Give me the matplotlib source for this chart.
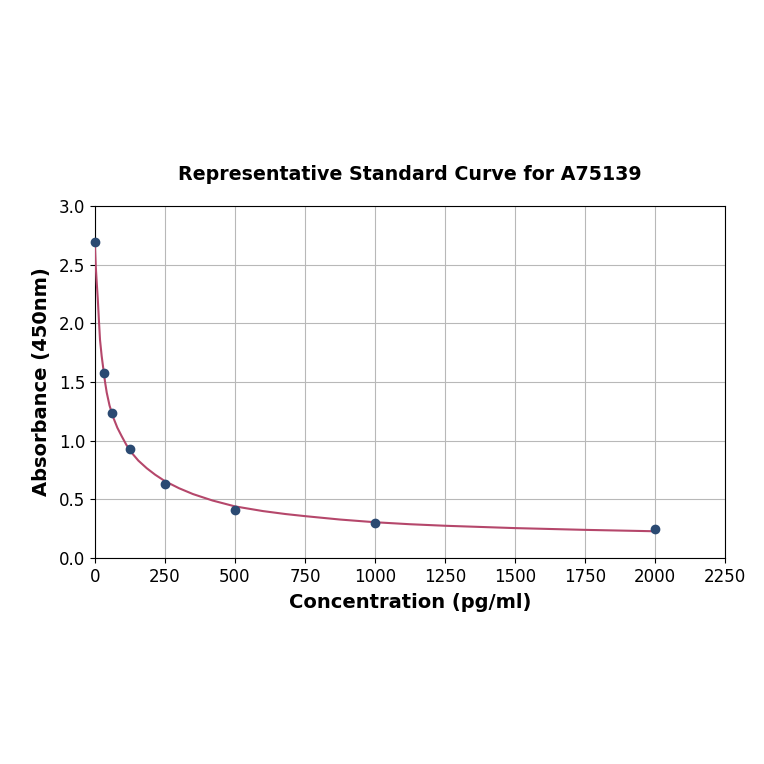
import numpy as np
import matplotlib
matplotlib.use("Agg")
import matplotlib.pyplot as plt

# standard points
conc = [0, 31.25, 62.5, 125, 250, 500, 1000, 2000]
absorb = [2.69, 1.58, 1.24, 0.93, 0.63, 0.41, 0.30, 0.25]

# fitted curve
curve_x = [0, 3, 6, 10, 14, 18, 24, 30, 36, 42, 52, 65, 80, 95, 112, 130,
           155, 185, 215, 250, 300, 350, 420, 500, 600, 680, 750, 875, 1000,
           1125, 1250, 1500, 1750, 2000]
curve_y = [2.66, 2.48, 2.36, 2.21, 2.03, 1.86, 1.72, 1.61, 1.50, 1.41, 1.30,
           1.20, 1.11, 1.04, 0.965, 0.90, 0.83, 0.765, 0.71, 0.655, 0.595,
           0.545, 0.49, 0.44, 0.40, 0.375, 0.357, 0.328, 0.305, 0.288,
           0.275, 0.255, 0.24, 0.228]

xticks = [0, 250, 500, 750, 1000, 1250, 1500, 1750, 2000, 2250]
yticks = [0.0, 0.5, 1.0, 1.5, 2.0, 2.5, 3.0]

fig = plt.figure(figsize=(7.64, 7.64), dpi=100)
ax = fig.add_axes([0.1243, 0.2696, 0.8246, 0.4608])

ax.plot(curve_x, curve_y, color='#b5476b', lw=1.5, zorder=3)
ax.scatter(conc, absorb, s=36, color='#2b4a72', zorder=4, clip_on=False)

ax.set_xlim(0, 2250)
ax.set_ylim(0, 3.0)
ax.set_xticks(xticks)
ax.set_yticks(yticks)
ax.tick_params(labelsize=12)
ax.grid(True, color='#b8b8b8', lw=0.8)
ax.set_axisbelow(True)

ax.set_xlabel('Concentration (pg/ml)', fontsize=14, fontweight='bold',
              labelpad=5)
ax.set_ylabel('Absorbance (450nm)', fontsize=14, fontweight='bold',
              labelpad=6)
ax.set_title('Representative Standard Curve for A75139', fontsize=13.7,
             fontweight='bold', pad=19)

fig.savefig('out.png', dpi=100)
